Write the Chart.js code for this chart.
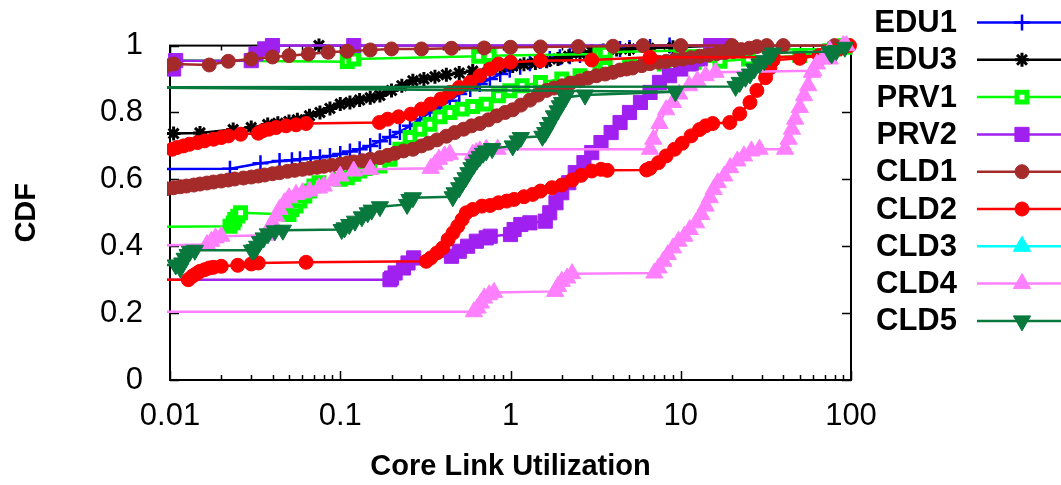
<!DOCTYPE html>
<html>
<head>
<meta charset="utf-8">
<script src="https://cdn.jsdelivr.net/npm/chart.js@4.4.1/dist/chart.umd.min.js"></script>
<style>
  html, body { margin: 0; padding: 0; background: #fff; }
</style>
</head>
<body>
<canvas id="cdf" width="1061" height="485"></canvas>
<script>
// --- data (null = break between two runs of the same series) ---
const seriesNames = ['EDU1', 'EDU3', 'PRV1', 'PRV2', 'CLD1', 'CLD2', 'CLD3', 'CLD4', 'CLD5'];

const edu1X = [0.005, 0.0225, 0.034, 0.044, 0.052, 0.058, 0.067, 0.076, 0.087, 0.1, 0.114, 0.13, 0.15, 0.171, 0.196, 0.224, 0.257, 0.294, 0.336, 0.385, 0.44, 0.5, 0.58, 0.66, 0.757, 0.87, 0.99, 1.14, 1.3, 1.5, 1.7, 1.95, 2.23, 2.56, 2.93, 3.35, 3.83, 4.4, 5.0, 6.6, 8.6];
const edu1Y = [0.63, 0.632, 0.648, 0.655, 0.657, 0.66, 0.663, 0.666, 0.67, 0.676, 0.683, 0.69, 0.70, 0.714, 0.727, 0.742, 0.76, 0.78, 0.80, 0.815, 0.835, 0.855, 0.87, 0.885, 0.90, 0.915, 0.928, 0.937, 0.947, 0.955, 0.96, 0.965, 0.968, 0.972, 0.976, 0.98, 0.985, 0.99, 0.993, 0.996, 1.0];

const edu3X = [0.005, 0.0105, 0.015, 0.0235, 0.03, 0.0375, 0.043, 0.05, 0.056, 0.066, 0.076, 0.087, 0.1, 0.114, 0.13, 0.15, 0.171, 0.2, 0.23, 0.267, 0.31, 0.36, 0.42, 0.5, 0.6, 0.75, 0.87, 1.03, 1.2, 1.4, 1.63, 1.9, 2.2, 2.56, 3.0, 3.5, 4.2, 5.0, 6.5, 9, 18, null, 0.075];
const edu3Y = [0.737, 0.737, 0.739, 0.749, 0.755, 0.764, 0.768, 0.773, 0.778, 0.79, 0.80, 0.812, 0.825, 0.83, 0.837, 0.844, 0.851, 0.866, 0.88, 0.895, 0.90, 0.907, 0.913, 0.918, 0.924, 0.93, 0.935, 0.939, 0.944, 0.948, 0.953, 0.96, 0.968, 0.977, 0.982, 0.985, 0.988, 0.99, 0.992, 0.995, 1.0, null, 1.0];

const prv1X = [0.005, 0.0225, 0.0235, 0.024, 0.025, 0.026, 0.05, 0.052, 0.055, 0.058, 0.062, 0.066, 0.07, 0.075, 0.1, 0.11, 0.12, 0.13, 0.14, 0.15, 0.171, 0.196, 0.224, 0.257, 0.294, 0.336, 0.385, 0.44, 0.52, 0.6, 0.72, 0.85, 0.99, 1.17, 1.5, 2.0, 2.56, 3.35, 3.6, 5, 8, 12, 17, 25, 50, 75, 92,
  null, 0.005, 0.11, 0.12, 0.65, 0.75, 3.35, 3.6, 10, 80, 92];
const prv1Y = [0.457, 0.46, 0.47, 0.48, 0.49, 0.50, 0.495, 0.51, 0.52, 0.535, 0.55, 0.565, 0.58, 0.59, 0.60, 0.605, 0.615, 0.625, 0.632, 0.636, 0.64, 0.66, 0.69, 0.725, 0.75, 0.765, 0.787, 0.80, 0.81, 0.818, 0.825, 0.85, 0.865, 0.88, 0.89, 0.90, 0.91, 0.93, 0.935, 0.94, 0.945, 0.95, 0.953, 0.96, 0.97, 0.985, 0.995,
  null, 0.957, 0.952, 0.96, 0.968, 0.97, 0.975, 0.98, 0.985, 0.99, 1.0];

const prv2X = [0.005, 0.196, 0.2, 0.21, 0.235, 0.25, 0.27, 0.45, 0.5, 0.56, 0.63, 0.72, 0.76, 1.0, 1.05, 1.15, 1.3, 1.6, 1.7, 1.85, 2.0, 2.2, 2.4, 2.7, 3.0, 3.4, 3.9, 4.4, 5.0, 5.8, 6.6, 7.5, 8.6, 10, 11.5, 13, 16, 18,
  null, 0.0105, 0.0108, 0.03, 0.032, 0.036, 0.04, 0.12, 15];
const prv2Y = [0.30, 0.30, 0.305, 0.32, 0.335, 0.35, 0.365, 0.37, 0.385, 0.40, 0.415, 0.425, 0.43, 0.435, 0.45, 0.465, 0.47, 0.475, 0.50, 0.53, 0.56, 0.59, 0.62, 0.65, 0.68, 0.71, 0.74, 0.77, 0.80, 0.83, 0.86, 0.89, 0.91, 0.93, 0.945, 0.96, 0.98, 1.0,
  null, 0.93, 0.955, 0.955, 0.975, 0.99, 1.0, 1.0, 1.0];

const cld1X = [0.0095, 0.0105, 0.0115, 0.0125, 0.0138, 0.015, 0.0165, 0.018, 0.02, 0.022, 0.024, 0.027, 0.03, 0.033, 0.036, 0.04, 0.044, 0.049, 0.054, 0.06, 0.066, 0.073, 0.08, 0.089, 0.1, 0.11, 0.12, 0.135, 0.15, 0.171, 0.19, 0.21, 0.235, 0.267, 0.3, 0.33, 0.37, 0.42, 0.47, 0.53, 0.59, 0.661, 0.74, 0.83, 0.93, 1.03, 1.15, 1.3, 1.45, 1.63, 1.8, 2.01, 2.25, 2.56, 2.85, 3.2, 3.6, 4.0, 4.39, 4.8, 5.2, 5.9, 6.6, 7.4, 8.2, 9.2, 10.3, 11.5, 12.9, 14.5, 16.3, 18.2, 20.3, 22.7, 25.3, 28, 32,
  null, 0.0095, 0.0105, 0.017, 0.022, 0.03, 0.04, 0.05, 0.065, 0.085, 0.11, 0.15, 0.2, 0.3, 0.45, 0.7, 1.0, 1.5, 2.5, 4, 6, 10, 20, 40, 80];
const cld1Y = [0.572, 0.575, 0.578, 0.58, 0.583, 0.586, 0.589, 0.592, 0.595, 0.598, 0.601, 0.604, 0.607, 0.61, 0.613, 0.617, 0.62, 0.624, 0.627, 0.63, 0.633, 0.636, 0.639, 0.642, 0.645, 0.649, 0.652, 0.656, 0.66, 0.665, 0.672, 0.678, 0.685, 0.69, 0.70, 0.708, 0.718, 0.729, 0.74, 0.75, 0.76, 0.767, 0.778, 0.79, 0.80, 0.808, 0.822, 0.837, 0.852, 0.866, 0.873, 0.88, 0.888, 0.895, 0.903, 0.91, 0.915, 0.92, 0.927, 0.93, 0.933, 0.94, 0.946, 0.95, 0.953, 0.957, 0.96, 0.964, 0.968, 0.972, 0.976, 0.979, 0.982, 0.988, 0.992, 0.997, 1.0,
  null, 0.94, 0.945, 0.942, 0.953, 0.96, 0.966, 0.97, 0.975, 0.98, 0.983, 0.987, 0.99, 0.99, 0.992, 0.993, 0.995, 0.996, 0.997, 0.998, 1.0, 1.0, 1.0, 1.0, 1.0];

const cld2X = [0.005, 0.0128, 0.0135, 0.014, 0.0145, 0.015, 0.016, 0.017, 0.018, 0.02, 0.025, 0.03, 0.033, 0.063, 0.32, 0.34, 0.37, 0.40, 0.43, 0.46, 0.49, 0.52, 0.55, 0.6, 0.68, 0.76, 0.85, 0.95, 1.05, 1.2, 1.35, 1.5, 1.75, 2.0, 2.3, 2.6, 3.0, 3.4, 3.7, 6.3, 6.6, 7.4, 8.2, 9.2, 10.2, 11.5, 12.9, 14, 15.4, 19.4, 22.2, 25.5, 28, 31.5, 33.4, 34.8, 50, 65.6, 98,
  null, 0.0103, 0.011, 0.012, 0.013, 0.0145, 0.016, 0.018, 0.02, 0.022, 0.026, 0.033, 0.035, 0.038, 0.042, 0.048, 0.055, 0.063, 0.17, 0.19, 0.22, 0.26, 0.3, 0.34, 0.39, 0.44, 0.5, 0.58, 0.66, 0.76, 0.85, 1.0, 1.5, 3, 6.6, 35, 65, 85];
const cld2Y = [0.30, 0.30, 0.31, 0.315, 0.32, 0.325, 0.33, 0.335, 0.337, 0.34, 0.343, 0.347, 0.35, 0.352, 0.355, 0.365, 0.38, 0.395, 0.42, 0.44, 0.46, 0.48, 0.50, 0.51, 0.52, 0.522, 0.53, 0.535, 0.54, 0.548, 0.555, 0.565, 0.575, 0.583, 0.598, 0.612, 0.625, 0.63, 0.627, 0.628, 0.633, 0.65, 0.67, 0.69, 0.708, 0.73, 0.749, 0.76, 0.767, 0.77, 0.796, 0.83, 0.866, 0.904, 0.933, 0.956, 0.962, 0.97, 1.0,
  null, 0.69, 0.695, 0.70, 0.705, 0.71, 0.715, 0.72, 0.725, 0.73, 0.735, 0.738, 0.745, 0.75, 0.755, 0.76, 0.763, 0.767, 0.77, 0.78, 0.787, 0.795, 0.81, 0.825, 0.84, 0.86, 0.875, 0.89, 0.91, 0.93, 0.945, 0.95, 0.955, 0.957, 0.965, 0.965, 0.97, 0.99];

const cld3X = [];
const cld3Y = [];

const cld4X = [0.005, 0.61, 0.64, 0.67, 0.70, 0.75, 0.8, 1.83, 1.9, 2.0, 2.15, 2.3, 7.0, 7.4, 7.9, 8.4, 9.0, 9.7, 10.5, 11.3, 12.3, 13.2, 14, 14.8, 15.6, 16.5, 18, 19.5, 21.5, 23.5, 26, 29, 41, 43, 45, 47, 50, 53, 56, 59, 63, 68, 75, 94,
  null, 0.005, 0.0165, 0.0175, 0.0185, 0.02, 0.037, 0.038, 0.04, 0.042, 0.044, 0.047, 0.05, 0.055, 0.06, 0.066, 0.075, 0.08, 0.09, 0.1, 0.12, 0.15, 0.34, 0.36, 0.38, 0.41, 0.44, 0.6, 0.63, 0.66, 0.72, 0.84, 6.6, 6.9, 7.5, 8.2, 9.0, 9.8, 11.2, 12.5, 14, 16, 60, 75, 90];
const cld4Y = [0.204, 0.204, 0.215, 0.23, 0.245, 0.255, 0.262, 0.265, 0.28, 0.295, 0.305, 0.318, 0.32, 0.335, 0.355, 0.375, 0.395, 0.415, 0.43, 0.45, 0.47, 0.495, 0.52, 0.545, 0.57, 0.59, 0.61, 0.635, 0.655, 0.67, 0.685, 0.69, 0.69, 0.72, 0.75, 0.78, 0.815, 0.85, 0.88, 0.92, 0.945, 0.96, 0.985, 1.0,
  null, 0.40, 0.405, 0.415, 0.425, 0.43, 0.433, 0.45, 0.47, 0.49, 0.51, 0.53, 0.545, 0.555, 0.56, 0.565, 0.574, 0.58, 0.595, 0.61, 0.625, 0.63, 0.633, 0.645, 0.66, 0.67, 0.675, 0.675, 0.68, 0.685, 0.69, 0.69, 0.69, 0.72, 0.767, 0.808, 0.83, 0.855, 0.88, 0.895, 0.91, 0.92, 0.925, 0.96, 1.0];

const cld5X = [0.005, 0.0108, 0.0115, 0.0118, 0.0122, 0.0127, 0.0131, 0.014, 0.0303, 0.0315, 0.0325, 0.0338, 0.0355, 0.0376, 0.0413, 0.046, 0.102, 0.106, 0.113, 0.122, 0.134, 0.145, 0.153, 0.171, 0.247, 0.255, 0.267, 0.458, 0.47, 0.5, 0.52, 0.545, 0.566, 0.59, 0.61, 0.635, 0.66, 0.69, 0.72, 0.78, 1.03, 1.1, 1.15, 1.54, 1.6, 1.66, 1.72, 1.8, 1.89, 1.95, 2.01, 2.1, 2.74, 9.3, 0.005, 21, 22.2, 24, 25.5, 27, 29, 31, 33.4, 34.8, 75, 77, 82, 92];
const cld5Y = [0.344, 0.344, 0.335, 0.35, 0.364, 0.375, 0.385, 0.388, 0.388, 0.39, 0.40, 0.414, 0.425, 0.437, 0.446, 0.448, 0.45, 0.455, 0.465, 0.475, 0.488, 0.50, 0.508, 0.518, 0.525, 0.54, 0.545, 0.548, 0.56, 0.575, 0.59, 0.605, 0.62, 0.635, 0.645, 0.658, 0.668, 0.678, 0.685, 0.692, 0.70, 0.715, 0.725, 0.729, 0.74, 0.755, 0.77, 0.79, 0.805, 0.82, 0.83, 0.845, 0.852, 0.862, 0.875, 0.878, 0.89, 0.905, 0.915, 0.93, 0.945, 0.955, 0.968, 0.978, 0.982, 0.975, 0.985, 0.995];

const xTickValues = [0.01, 0.02, 0.03, 0.04, 0.05, 0.06, 0.07, 0.08, 0.09,
  0.1, 0.2, 0.3, 0.4, 0.5, 0.6, 0.7, 0.8, 0.9,
  1, 2, 3, 4, 5, 6, 7, 8, 9,
  10, 20, 30, 40, 50, 60, 70, 80, 90, 100];
const xTickLabels = { 0.01: '0.01', 0.1: '0.1', 1: '1', 10: '10', 100: '100' };
const yTickLabels = ['0', '0.2', '0.4', '0.6', '0.8', '1'];

// --- style per series (gnuplot-ish palette and point types) ---
const seriesStyle = [
  { color: '#0000ff', point: 'cross',    radius: 8,  fill: '#0000ff', bw: 2.5 },
  { color: '#000000', point: 'star',     radius: 7,  fill: '#000000', bw: 3 },
  { color: '#00ff00', point: 'rect',     radius: 7,  fill: '#ffffff', bw: 5 },
  { color: '#a020f0', point: 'rect',     radius: 10, fill: '#a020f0', bw: 1 },
  { color: '#a52a2a', point: 'circle',   radius: 7,  fill: '#a52a2a', bw: 1 },
  { color: '#ff0000', point: 'circle',   radius: 7,  fill: '#ff0000', bw: 1 },
  { color: '#00ffff', point: 'triangle', radius: 10, fill: '#00ffff', bw: 1 },
  { color: '#ff80ff', point: 'triangle', radius: 10, fill: '#ff80ff', bw: 1 },
  { color: '#08783c', point: 'triangle', radius: 10, fill: '#08783c', bw: 1, rot: 180 }
];

const seriesX = [edu1X, edu3X, prv1X, prv2X, cld1X, cld2X, cld3X, cld4X, cld5X];
const seriesY = [edu1Y, edu3Y, prv1Y, prv2Y, cld1Y, cld2Y, cld3Y, cld4Y, cld5Y];

function toPoints(xs, ys) {
    return xs.map((x, i) => ({ x: x === null ? NaN : x, y: ys[i] }));
}

const FONT = '"Liberation Sans", Arial, Helvetica, sans-serif';

const datasets = seriesNames.map((name, i) => {
    const s = seriesStyle[i];
    return {
        label: name,
        data: toPoints(seriesX[i], seriesY[i]),
        borderColor: s.color,
        borderWidth: 2.5,
        pointStyle: s.point,
        pointRadius: s.radius,
        pointHoverRadius: s.radius,
        pointBackgroundColor: s.fill,
        pointBorderColor: s.color,
        pointBorderWidth: s.bw,
        pointRotation: s.rot || 0,
        tension: 0,
        spanGaps: false,
        // later series sit on top, like gnuplot
        order: seriesNames.length - i,
        clip: { left: 3, top: 14, right: 14, bottom: 2 }
    };
});

// frame with inward ticks on all four sides
const framePlugin = {
    id: 'frame',
    beforeDatasetsDraw(chart) {
        const { ctx, chartArea: a, scales: { x, y } } = chart;
        ctx.save();
        ctx.strokeStyle = '#000';
        ctx.lineWidth = 1.5;
        ctx.beginPath();
        x.ticks.forEach(t => {
            const px = Math.round(x.getPixelForValue(t.value)) + 0.5;
            const len = xTickLabels[t.value] ? 9 : 5;
            ctx.moveTo(px, a.bottom); ctx.lineTo(px, a.bottom - len);
            ctx.moveTo(px, a.top); ctx.lineTo(px, a.top + len);
        });
        y.ticks.forEach(t => {
            const py = Math.round(y.getPixelForValue(t.value)) + 0.5;
            ctx.moveTo(a.left, py); ctx.lineTo(a.left + 9, py);
            ctx.moveTo(a.right, py); ctx.lineTo(a.right - 9, py);
        });
        ctx.stroke();
        ctx.lineWidth = 2;
        ctx.strokeRect(a.left, a.top, a.right - a.left, a.bottom - a.top);
        ctx.restore();
    }
};

// key on the right: right-justified names, sample line with a point
const keyPlugin = {
    id: 'sideKey',
    afterDraw(chart) {
        const ctx = chart.ctx;
        chart.data.datasets.forEach((ds, i) => {
            const yy = 22.5 + i * 37.3;
            ctx.save();
            ctx.font = 'bold 31px ' + FONT;
            ctx.textAlign = 'right';
            ctx.textBaseline = 'middle';
            ctx.fillStyle = '#000';
            ctx.fillText(ds.label, 957, yy + 1);
            ctx.strokeStyle = ds.borderColor;
            ctx.lineWidth = 2.5;
            ctx.beginPath();
            ctx.moveTo(977, yy);
            ctx.lineTo(1061, yy);
            ctx.stroke();
            ctx.fillStyle = ds.pointBackgroundColor;
            ctx.strokeStyle = ds.pointBorderColor;
            ctx.lineWidth = ds.pointBorderWidth;
            Chart.helpers.drawPoint(ctx, {
                pointStyle: ds.pointStyle,
                radius: ds.pointRadius,
                rotation: ds.pointRotation,
                borderWidth: ds.pointBorderWidth
            }, 1022, yy);
            ctx.restore();
        });
    }
};

new Chart(document.getElementById('cdf'), {
    type: 'line',
    data: { datasets: datasets },
    options: {
        responsive: false,
        animation: false,
        devicePixelRatio: 1,
        layout: { padding: { left: 0, right: 210, top: 37, bottom: 0 } },
        plugins: {
            legend: { display: false },
            tooltip: { enabled: false }
        },
        scales: {
            x: {
                type: 'logarithmic',
                min: 0.01,
                max: 100,
                afterBuildTicks: scale => {
                    scale.ticks = xTickValues.map(v => ({ value: v }));
                },
                afterFit: scale => { scale.height = 105; },
                grid: { display: false, drawTicks: false },
                border: { display: false },
                ticks: {
                    autoSkip: false,
                    maxRotation: 0,
                    padding: 18,
                    color: '#000',
                    font: { family: FONT, size: 31 },
                    callback: value => xTickLabels[value] || ''
                },
                title: {
                    display: true,
                    text: 'Core Link Utilization',
                    color: '#000',
                    font: { family: FONT, size: 29, weight: 'bold' },
                    padding: { top: 0, bottom: 1 }
                }
            },
            y: {
                min: 0,
                max: 1,
                afterFit: scale => { scale.width = 170; },
                grid: { display: false, drawTicks: false },
                border: { display: false },
                ticks: {
                    stepSize: 0.2,
                    padding: 27,
                    color: '#000',
                    font: { family: FONT, size: 31 },
                    callback: (value, index) => yTickLabels[index]
                },
                title: {
                    display: true,
                    text: 'CDF',
                    color: '#000',
                    font: { family: FONT, size: 29, weight: 'bold' },
                    padding: { top: 10, bottom: 0 }
                }
            }
        }
    },
    plugins: [framePlugin, keyPlugin]
});
</script>
</body>
</html>
